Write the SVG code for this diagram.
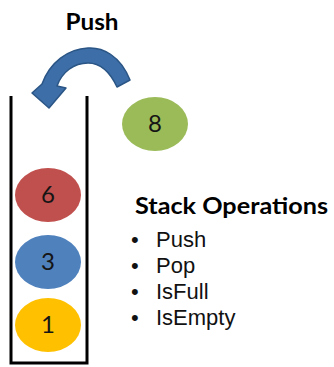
<svg xmlns="http://www.w3.org/2000/svg" width="334" height="367" viewBox="0 0 334 367">
<style>
.num{font-family:Lato,"Open Sans",sans-serif;font-size:24px;fill:#151515;text-anchor:middle}
.bold{font-family:Lato,"Open Sans",sans-serif;font-weight:bold;fill:#000}
.item{font-family:"Liberation Sans",Arial,sans-serif;font-size:22px;fill:#111}
.wall{stroke:#000;stroke-width:3;fill:none}
</style>
<rect width="334" height="367" fill="#fff"/>
<g id="stack">
<path class="wall" d="M11 96 V363 H87 V96"/>
</g>
<g id="connectors">
<path d="M130 80 C120 55 102 47 88 48 C68 49 50 62 42 84 L32 93 L49 108 L66 88 L57 86 C62 72 74 63 88 63 C100 63 110 72 117 87 Z" fill="#3d6ea7" stroke="#2a5585" stroke-width="1.5" stroke-linejoin="round"/>
</g>
<g id="push-label"><text class="bold" x="92" y="30" font-size="22" textLength="53" lengthAdjust="spacingAndGlyphs" text-anchor="middle">Push</text></g>
<g id="node-8"><ellipse cx="155" cy="124" rx="33" ry="27" fill="#9bbb59"/><text class="num" x="155" y="132">8</text></g>
<g id="node-6"><ellipse cx="48" cy="195" rx="33" ry="27" fill="#c0504d"/><text class="num" x="48" y="203">6</text></g>
<g id="node-3"><ellipse cx="48" cy="262" rx="33" ry="27" fill="#4f81bd"/><text class="num" x="48" y="270">3</text></g>
<g id="node-1"><ellipse cx="48" cy="325" rx="33" ry="27" fill="#ffc000"/><text class="num" x="48" y="333">1</text></g>
<g id="operations">
<text class="bold" x="135" y="214" font-size="22" textLength="193" lengthAdjust="spacingAndGlyphs">Stack Operations</text>
<text class="item" x="131" y="247">•</text><text class="item" x="156" y="247">Push</text>
<text class="item" x="131" y="273">•</text><text class="item" x="156" y="273">Pop</text>
<text class="item" x="131" y="299">•</text><text class="item" x="156" y="299">IsFull</text>
<text class="item" x="131" y="325">•</text><text class="item" x="156" y="325">IsEmpty</text>
</g>
</svg>
